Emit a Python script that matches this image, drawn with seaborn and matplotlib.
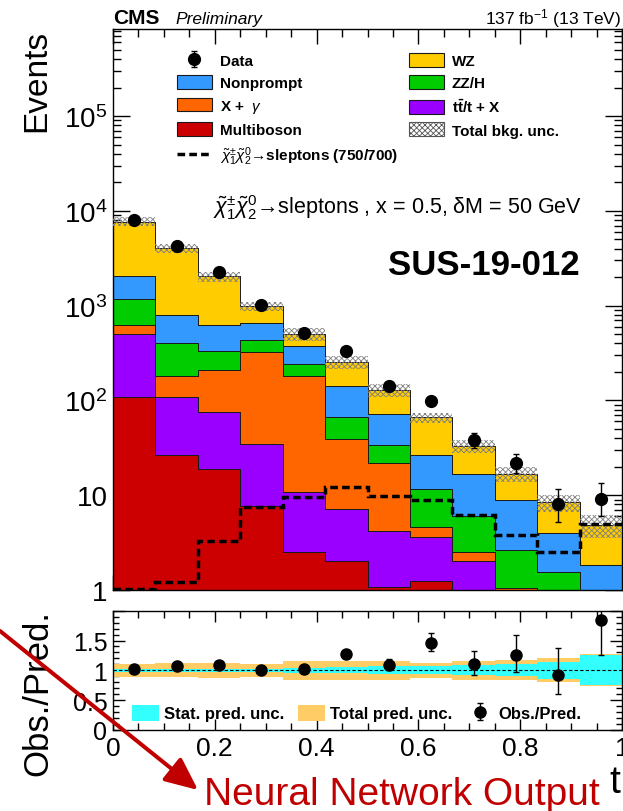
import numpy as np
import pandas as pd
import matplotlib
matplotlib.use("Agg")
import matplotlib.pyplot as plt
import matplotlib.ticker as mticker
from matplotlib.patches import Patch, FancyArrowPatch
from matplotlib.lines import Line2D
from matplotlib.transforms import IdentityTransform
import seaborn as sns

# ---------------- data ----------------
n_bins = 12
bin_edges = np.linspace(0.0, 1.0, n_bins + 1)

proc_names = ["WZ", "Nonprompt", "ZZ/H", "X + $\\gamma$", "t$\\bar{\\rm t}$/t + X", "Multiboson"]
wz         = [5676, 3259, 1416, 322, 126, 116, 56.4, 39.8, 16.4, 7.84, 4.42, 3.02]
nonprompt  = [857, 386, 293, 227, 129, 74, 37.9, 15.0, 10.6, 6.3, 2.45, 1.23]
zzh        = [546, 222, 124, 109, 65, 27.6, 11.9, 7.0, 3.48, 1.62, 1.04, 0.3]
xgamma     = [127, 74, 131, 287, 169, 32.3, 17.6, 0.98, 0.47, 0.54, 0.2, 0.1]
ttx        = [395, 82.6, 56.9, 27.3, 8.3, 5.1, 3.15, 2.35, 2.03, 0.5, 0.3, 0.2]
multiboson = [109, 26.4, 19.1, 7.7, 2.5, 2.0, 1.07, 1.25, 0.0, 0.0, 0.0, 0.0]

signal     = [1.02, 1.2, 3.27, 7.55, 9.6, 12.3, 9.7, 8.96, 6.2, 3.8, 2.54, 4.96]

data       = [7930, 4310, 2240, 1010, 515, 331, 142, 98.6, 37.9, 21.8, 8.06, 9.1]
data_err_lo = [89, 66, 47, 32, 23, 18, 12, 10, 6.1, 4.5, 2.8, 3.0]
data_err_hi = [89, 66, 47, 32, 23, 18, 12, 10, 7.0, 5.2, 3.7, 4.2]

ratio        = [1.03, 1.067, 1.09, 1.0, 1.02, 1.27, 1.095, 1.46, 1.11, 1.25, 0.92, 1.85]
ratio_err_lo = [0.01, 0.015, 0.02, 0.03, 0.045, 0.07, 0.09, 0.14, 0.18, 0.28, 0.31, 0.60]
ratio_err_hi = [0.01, 0.015, 0.02, 0.03, 0.045, 0.07, 0.09, 0.17, 0.21, 0.34, 0.46, 0.65]

total_unc = [0.11, 0.115, 0.12, 0.105, 0.155, 0.155, 0.155, 0.12, 0.155, 0.17, 0.20, 0.27]
stat_unc  = [0.02, 0.02, 0.02, 0.02, 0.04, 0.05, 0.067, 0.067, 0.085, 0.10, 0.14, 0.25]

x_ticks = [0, 0.2, 0.4, 0.6, 0.8, 1.0]
x_ticklabels = ["0", "0.2", "0.4", "0.6", "0.8", "1"]
y_ticks = [1, 10, 100, 1e3, 1e4, 1e5]
y_ticklabels = ["1", "10", "$10^{2}$", "$10^{3}$", "$10^{4}$", "$10^{5}$"]
r_ticks = [0, 0.5, 1, 1.5, 2]
r_ticklabels = ["0", "0.5", "1", "1.5", ""]

colors = {
    "WZ": "#FFCC00",
    "Nonprompt": "#3399FF",
    "ZZ/H": "#00CC00",
    "X + $\\gamma$": "#FF6600",
    "t$\\bar{\\rm t}$/t + X": "#9900FF",
    "Multiboson": "#CC0000",
}

# ---------------- style ----------------
sns.set_theme(style="ticks")
plt.rcParams.update({
    "font.family": ["Liberation Sans", "DejaVu Sans"],
    "mathtext.fontset": "custom",
    "mathtext.rm": "Liberation Sans",
    "mathtext.it": "Liberation Sans:italic",
    "mathtext.bf": "Liberation Sans:bold",
    "axes.edgecolor": "black",
    "axes.linewidth": 1.0,
    "xtick.color": "black",
    "ytick.color": "black",
    "text.color": "black",
    "axes.labelcolor": "black",
    "hatch.linewidth": 0.6,
    "hatch.color": "#7f7f7f",
})

W, H = 623, 812
fig = plt.figure(figsize=(W / 100, H / 100), dpi=100)
def fx(px): return px / W
def fy(py): return 1 - py / H

ax = fig.add_axes([fx(113), fy(591), fx(622) - fx(113), fy(30) - fy(591)])
axr = fig.add_axes([fx(113), fy(731), fx(622) - fx(113), fy(611.7) - fy(731)])

centers = 0.5 * (bin_edges[:-1] + bin_edges[1:])
series = [wz, nonprompt, zzh, xgamma, ttx, multiboson]
df = pd.DataFrame({
    "x": np.tile(centers, len(proc_names)),
    "w": np.concatenate([np.asarray(s, float) for s in series]),
    "proc": np.repeat(proc_names, n_bins),
})

ax.set_yscale("log")
sns.histplot(data=df, x="x", weights="w", hue="proc", hue_order=proc_names,
             palette=colors, bins=[float(b) for b in bin_edges], multiple="stack", element="step",
             fill=True, alpha=1, edgecolor="#1a1a1a", linewidth=0.7,
             legend=False, ax=ax)

total = np.sum([np.asarray(s, float) for s in series], axis=0)
tu = np.asarray(total_unc)
ax.stairs(total * (1 + tu), bin_edges, baseline=total * (1 - tu), fill=True,
          facecolor="none", edgecolor="#7f7f7f", hatch="xxxxxx", linewidth=0, zorder=3)

ax.stairs(signal, bin_edges, baseline=None, color="black", linewidth=2.5,
          linestyle=(0, (2.2, 1.2)), zorder=4)

dh = ax.errorbar(centers, data, yerr=[data_err_lo, data_err_hi], fmt="o", color="black",
                 ms=8.5, elinewidth=1.0, capsize=2, zorder=5)

ax.set_xlim(0, 1)
ax.set_ylim(1, 8.3e5)
ax.set_xlabel("")
ax.set_ylabel("")
ax.yaxis.set_major_locator(mticker.FixedLocator(y_ticks))
ax.yaxis.set_major_formatter(mticker.FixedFormatter(y_ticklabels))
ax.yaxis.set_minor_locator(mticker.LogLocator(base=10, subs=np.arange(2, 10), numticks=20))
ax.yaxis.set_minor_formatter(mticker.NullFormatter())
ax.xaxis.set_major_locator(mticker.FixedLocator(x_ticks))
ax.xaxis.set_minor_locator(mticker.MultipleLocator(0.05))
ax.tick_params(axis="both", which="both", direction="in", top=True, right=True, labelbottom=False)
ax.tick_params(axis="y", which="major", length=12.5, width=1.0, labelsize=20, pad=4)
ax.tick_params(axis="y", which="minor", length=6, width=1.0)
ax.tick_params(axis="x", which="major", length=11, width=1.0)
ax.tick_params(axis="x", which="minor", length=5.5, width=1.0)

# ---------------- ratio panel ----------------
su = np.asarray(stat_unc)
axr.stairs(1 + tu, bin_edges, baseline=1 - tu, fill=True, color="#FFCC66", linewidth=0)
axr.stairs(1 + su, bin_edges, baseline=1 - su, fill=True, color="#33FFFF", linewidth=0)
axr.axhline(1.0, color="black", linewidth=0.8, linestyle=(0, (3, 2)))
rh = axr.errorbar(centers, ratio, yerr=[ratio_err_lo, ratio_err_hi], fmt="o", color="black",
                  ms=8, elinewidth=1.0, capsize=2, zorder=5)
axr.set_xlim(0, 1)
axr.set_ylim(0, 2)
axr.xaxis.set_major_locator(mticker.FixedLocator(x_ticks))
axr.xaxis.set_major_formatter(mticker.FixedFormatter(x_ticklabels))
axr.xaxis.set_minor_locator(mticker.MultipleLocator(0.05))
axr.yaxis.set_major_locator(mticker.FixedLocator(r_ticks))
axr.yaxis.set_major_formatter(mticker.FixedFormatter(r_ticklabels))
axr.yaxis.set_minor_locator(mticker.MultipleLocator(0.1))
axr.tick_params(axis="both", which="both", direction="in", top=True, right=True)
axr.tick_params(axis="y", which="major", length=8.5, width=1.0, labelsize=18, pad=4)
axr.tick_params(axis="y", which="minor", length=4, width=1.0)
axr.tick_params(axis="x", which="major", length=8, width=1.0, labelsize=19, pad=4.5)
axr.tick_params(axis="x", which="minor", length=5, width=1.0)

# ---------------- legends ----------------
sig_label = "$\\tilde{\\chi}^{\\pm}_{1}\\tilde{\\chi}^{0}_{2}$\u2192sleptons (750/700)"
h1 = [dh,
      Patch(facecolor=colors["Nonprompt"], edgecolor="#1a1a1a", linewidth=0.8),
      Patch(facecolor=colors["X + $\\gamma$"], edgecolor="#1a1a1a", linewidth=0.8),
      Patch(facecolor=colors["Multiboson"], edgecolor="#1a1a1a", linewidth=0.8),
      Line2D([], [], color="black", linewidth=2.5, linestyle=(0, (2.2, 1.2)))]
l1 = ["Data", "Nonprompt", "X +  $\\gamma$", "Multiboson", sig_label]
h2 = [Patch(facecolor=colors["WZ"], edgecolor="#1a1a1a", linewidth=0.8),
      Patch(facecolor=colors["ZZ/H"], edgecolor="#1a1a1a", linewidth=0.8),
      Patch(facecolor=colors["t$\\bar{\\rm t}$/t + X"], edgecolor="#1a1a1a", linewidth=0.8),
      Patch(facecolor="white", edgecolor="#555555", hatch="xxxxxx", linewidth=0.8)]
l2 = ["WZ", "ZZ/H", "t$\\mathbf{\\bar{t}}$/t + X", "Total bkg. unc."]
common = dict(frameon=False, prop=dict(weight="bold", size=11), handlelength=2.29,
              handleheight=1.0, handletextpad=0.5, labelspacing=0.48, borderpad=0,
              borderaxespad=0, loc="upper left", bbox_transform=fig.transFigure)
leg1 = ax.legend(h1, l1, bbox_to_anchor=(fx(177), fy(54)), **common)
ax.add_artist(leg1)
leg2 = ax.legend(h2, l2, bbox_to_anchor=(fx(409), fy(54)), **common)

axr.legend([Patch(facecolor="#33FFFF", linewidth=0), Patch(facecolor="#FFCC66", linewidth=0), rh],
           ["Stat. pred. unc.", "Total pred. unc.", "Obs./Pred."], ncol=3,
           loc="center left", bbox_to_anchor=(fx(131.7), fy(714)), bbox_transform=fig.transFigure,
           frameon=False, prop=dict(weight="bold", size=12), handlelength=1.65, handleheight=1.14,
           handletextpad=0.3, columnspacing=0.8, borderpad=0, borderaxespad=0)

# ---------------- texts ----------------
fig.text(fx(113), fy(24), "CMS", fontsize=15, fontweight="bold", va="baseline", ha="left")
fig.text(fx(175), fy(24), "Preliminary", fontsize=12.5, fontstyle="italic", va="baseline", ha="left")
fig.text(fx(621), fy(24), "137 fb$^{-1}$ (13 TeV)", fontsize=12.5, va="baseline", ha="right")
fig.text(fx(582), fy(214), "$\\tilde{\\chi}^{\\pm}_{1}\\tilde{\\chi}^{0}_{2}$\u2192sleptons , x = 0.5, \u03b4M = 50 GeV",
         fontsize=15.5, va="baseline", ha="right")
fig.text(fx(580), fy(275), "SUS-19-012", fontsize=25, fontweight="bold", va="baseline", ha="right")
fig.text(fx(37), fy(30), "Events", fontsize=24, rotation=90, ha="center", va="top")
fig.text(fx(38), fy(610), "Obs./Pred.", fontsize=25, rotation=90, ha="center", va="top")
fig.text(fx(600), fy(805), "Neural Network Output", fontsize=28, color="#C00000", ha="right", va="baseline")
fig.text(fx(609), fy(793), "t", fontsize=28, color="black", ha="left", va="baseline")

arrow = FancyArrowPatch((0, H - 632), (198, H - 791), transform=IdentityTransform(),
                        arrowstyle="-|>,head_length=0.8,head_width=0.36", mutation_scale=25,
                        color="#C00000", linewidth=2.9, shrinkA=0, shrinkB=0, zorder=10)
fig.add_artist(arrow)

fig.savefig("out.png", dpi=100)
